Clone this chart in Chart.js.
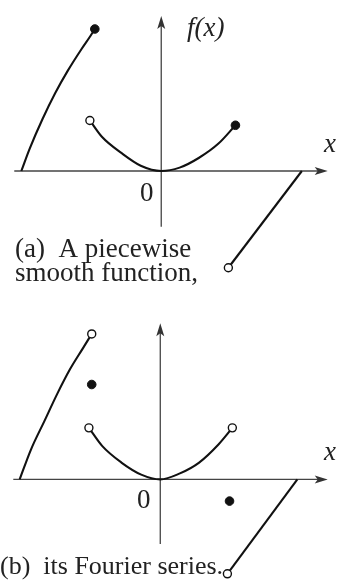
<!DOCTYPE html>
<html><head><meta charset="utf-8">
<script src="https://cdn.jsdelivr.net/npm/chart.js@4"></script>
<style>html,body{margin:0;padding:0;background:#fff;} canvas{display:block;}</style>
</head><body>
<canvas id="c1" width="337" height="290"></canvas>
<canvas id="c2" width="337" height="295"></canvas>
<script>
// ---------- (a) piecewise smooth function ----------
const aLeftX  = [-1.98, -1.86, -1.68, -1.50, -1.32, -1.13, -1.00, -0.94];
const aLeftY  = [0.00, 0.47, 1.08, 1.62, 2.09, 2.53, 2.81, 2.95];
const aParX   = [-1.01, -0.84, -0.56, -0.29, 0.00, 0.26, 0.53, 0.81, 1.05];
const aParY   = [1.05, 0.71, 0.37, 0.11, 0.00, 0.07, 0.27, 0.57, 0.95];
const aLineX  = [0.95, 1.99];
const aLineY  = [-2.01, 0.00];
const aFilledX = [-0.94, 1.05];
const aFilledY = [2.95, 0.95];
const aOpenX  = [-1.01, 0.95];
const aOpenY  = [1.05, -2.01];

// ---------- (b) its Fourier series ----------
const bLeftX  = [-1.99, -1.83, -1.64, -1.46, -1.28, -1.10, -0.97];
const bLeftY  = [0.00, 0.62, 1.21, 1.77, 2.28, 2.71, 3.02];
const bParX   = [-1.01, -0.82, -0.55, -0.27, 0.00, 0.27, 0.55, 0.82, 1.02];
const bParY   = [1.07, 0.69, 0.35, 0.10, 0.00, 0.12, 0.35, 0.72, 1.07];
const bLineX  = [0.95, 1.94];
const bLineY  = [-1.96, 0.00];
const bFilledX = [-0.97, 0.98];
const bFilledY = [1.97, -0.45];
const bOpenX  = [-0.97, -1.01, 1.02, 0.95];
const bOpenY  = [3.02, 1.07, 1.07, -1.96];

const zip = (xs, ys) => xs.map((x, i) => ({x: x, y: ys[i]}));
const SERIF = '"Liberation Serif", "DejaVu Serif", serif';

function curve(xs, ys) {
  return {data: zip(xs, ys), showLine: true, borderColor: '#111', borderWidth: 2.1,
          pointRadius: 0, cubicInterpolationMode: 'monotone', fill: false, order: 2, clip: false};
}
function dots(xs, ys, open) {
  return {data: zip(xs, ys), showLine: false, pointRadius: open ? 4 : 4.3,
          pointBackgroundColor: open ? '#fff' : '#111', pointBorderColor: '#111',
          pointBorderWidth: open ? 1.4 : 1, order: 0, clip: false};
}

const sketchPlugin = {
  id: 'sketch',
  beforeDatasetsDraw(chart, args, opts) {
    const ctx = chart.ctx, sx = chart.scales.x, sy = chart.scales.y;
    const x0 = sx.getPixelForValue(0), y0 = sy.getPixelForValue(0);
    const xa = sx.getPixelForValue(opts.xFrom), xb = sx.getPixelForValue(opts.xTo);
    const ya = sy.getPixelForValue(opts.yFrom), yb = sy.getPixelForValue(opts.yTo);
    ctx.save();
    ctx.strokeStyle = '#444'; ctx.fillStyle = '#333'; ctx.lineWidth = 1.3;
    ctx.beginPath(); ctx.moveTo(xa, y0); ctx.lineTo(xb - 6, y0); ctx.stroke();
    ctx.beginPath(); ctx.moveTo(x0, ya); ctx.lineTo(x0, yb + 6); ctx.stroke();
    ctx.beginPath(); ctx.moveTo(xb, y0); ctx.lineTo(xb - 13, y0 - 4); ctx.lineTo(xb - 10, y0); ctx.lineTo(xb - 13, y0 + 4); ctx.closePath(); ctx.fill();
    ctx.beginPath(); ctx.moveTo(x0, yb); ctx.lineTo(x0 - 4, yb + 13); ctx.lineTo(x0, yb + 10); ctx.lineTo(x0 + 4, yb + 13); ctx.closePath(); ctx.fill();
    ctx.restore();
  },
  afterDraw(chart, args, opts) {
    const ctx = chart.ctx;
    ctx.save();
    ctx.fillStyle = '#222';
    ctx.textBaseline = 'alphabetic';
    ctx.textAlign = 'left';
    (opts.texts || []).forEach(t => {
      ctx.font = (t.italic ? 'italic ' : '') + (t.size || 27) + 'px ' + SERIF;
      ctx.fillText(t.s, t.x, t.y);
    });
    ctx.restore();
  }
};

function makeChart(id, datasets, xr, yr, sketch) {
  return new Chart(document.getElementById(id), {
    type: 'scatter',
    data: {datasets: datasets},
    options: {
      responsive: false, animation: false, devicePixelRatio: 1,
      layout: {padding: 0},
      scales: {
        x: {type: 'linear', display: false, min: xr[0], max: xr[1]},
        y: {type: 'linear', display: false, min: yr[0], max: yr[1]}
      },
      plugins: {legend: {display: false}, tooltip: {enabled: false}, sketch: sketch}
    },
    plugins: [sketchPlugin]
  });
}

makeChart('c1', [
  dots(aFilledX, aFilledY, false), dots(aOpenX, aOpenY, true),
  curve(aLeftX, aLeftY), curve(aParX, aParY), curve(aLineX, aLineY)
], [-2.2055, 2.411], [-2.36, 3.44], {
  xFrom: -2.08, xTo: 2.356, yFrom: -1.16, yTo: 3.22,
  texts: [
    {s: 'f(x)', x: 187, y: 36, italic: true},
    {s: 'x', x: 324, y: 152, italic: true},
    {s: '0', x: 140, y: 201},
    {s: '(a)  A piecewise', x: 15, y: 257},
    {s: 'smooth function,', x: 15, y: 281}
  ]
});

makeChart('c2', [
  dots(bFilledX, bFilledY, false), dots(bOpenX, bOpenY, true),
  curve(bLeftX, bLeftY), curve(bParX, bParY), curve(bLineX, bLineY)
], [-2.1918, 2.4247], [-2.08, 3.82], {
  xFrom: -2.08, xTo: 2.37, yFrom: -1.34, yTo: 3.24,
  texts: [
    {s: 'x', x: 324, y: 170, italic: true},
    {s: '0', x: 137, y: 218},
    {s: '(b)  its Fourier series.', x: 0, y: 284, size: 26}
  ]
});
</script>
</body></html>
